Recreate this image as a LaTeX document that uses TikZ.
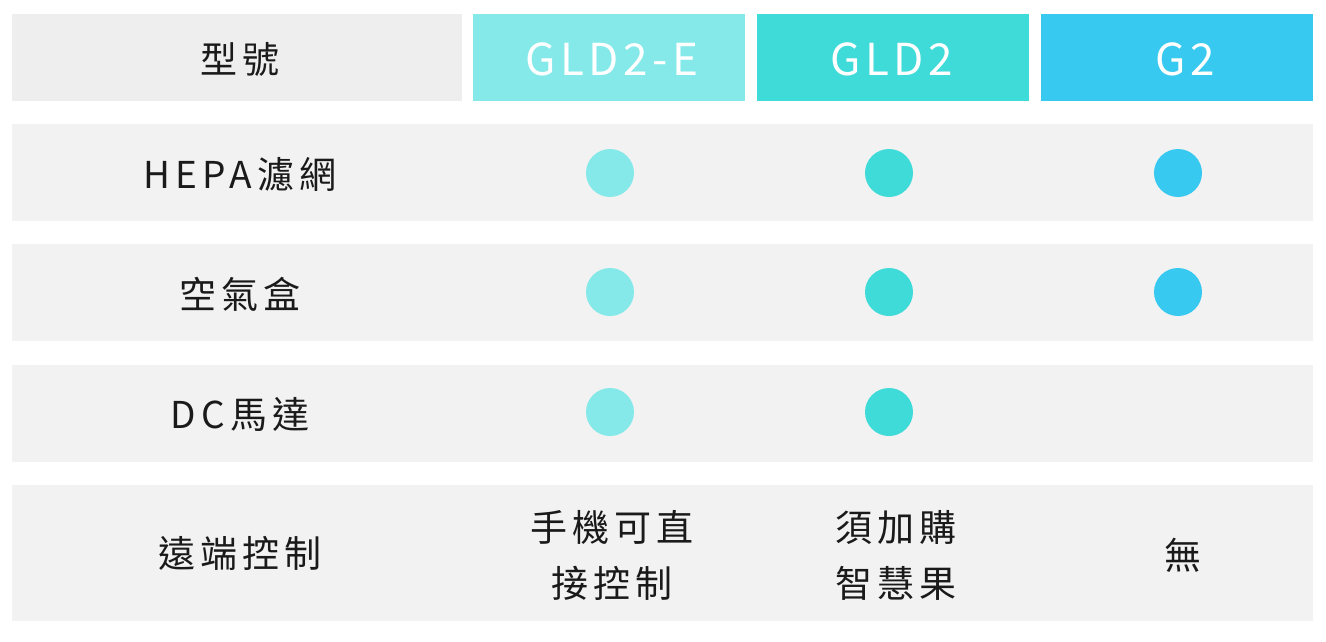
\documentclass[tikz,border=0pt]{standalone}
\usepackage{fontspec}
\setmainfont{Noto Sans CJK TC}
\newfontfamily\spaced[LetterSpace=14]{Noto Sans CJK TC}
\newfontfamily\spacedlight[LetterSpace=10]{Noto Sans CJK TC}
\definecolor{headgray}{HTML}{EEEEEE}
\definecolor{rowgray}{HTML}{F2F2F2}
\definecolor{colA}{HTML}{86E9E9}
\definecolor{colB}{HTML}{3EDBD8}
\definecolor{colC}{HTML}{38C9F0}
\definecolor{ink}{HTML}{1A1A1A}
\tikzset{
    cell/.style={inner sep=0pt, outer sep=0pt},
    headcell/.style={cell, text=white, font=\spacedlight\fontsize{44}{50}\selectfont},
    label/.style={cell, text=ink, align=center, font=\spaced\fontsize{37}{56}\selectfont},
    dot/.style={circle, minimum size=48pt, inner sep=0pt}
}
\begin{document}
\begin{tikzpicture}[x=1pt,y=-1pt]
    \useasboundingbox (0,0) rectangle (1326,641);
    % header
    \fill[headgray] (12,14) rectangle (462,101);
    \fill[colA] (473,14) rectangle (745,101);
    \fill[colB] (757,14) rectangle (1029,101);
    \fill[colC] (1041,14) rectangle (1313,101);
    \node[label] (head-0) at (240,59) {型號};
    \node[headcell] (head-1) at (612,59) {GLD2-E};
    \node[headcell] (head-2) at (892,59) {GLD2};
    \node[headcell] (head-3) at (1185,59) {G2};
    % rows
    \fill[rowgray] (12,124) rectangle (1313,221);
    \fill[rowgray] (12,244) rectangle (1313,341);
    \fill[rowgray] (12,365) rectangle (1313,462);
    \fill[rowgray] (12,485) rectangle (1313,621);
    \node[label] (row-1) at (240,174) {HEPA濾網};
    \node[label] (row-2) at (240,294) {空氣盒};
    \node[label] (row-3) at (240,414) {DC馬達};
    \node[label] (row-4) at (240,553) {遠端控制};
    % dots
    \foreach \y/\r in {173/1,292/2} {
        \node[dot, fill=colA] (dot-\r-1) at (610,\y) {};
        \node[dot, fill=colB] (dot-\r-2) at (889,\y) {};
        \node[dot, fill=colC] (dot-\r-3) at (1178,\y) {};
    }
    \node[dot, fill=colA] (dot-3-1) at (610,412) {};
    \node[dot, fill=colB] (dot-3-2) at (889,412) {};
    % remote control
    \node[label] (remote-1) at (612,555) {手機可直\\接控制};
    \node[label] (remote-2) at (896,555) {須加購\\智慧果};
    \node[label] (remote-3) at (1183,555) {無};
\end{tikzpicture}
\end{document}
